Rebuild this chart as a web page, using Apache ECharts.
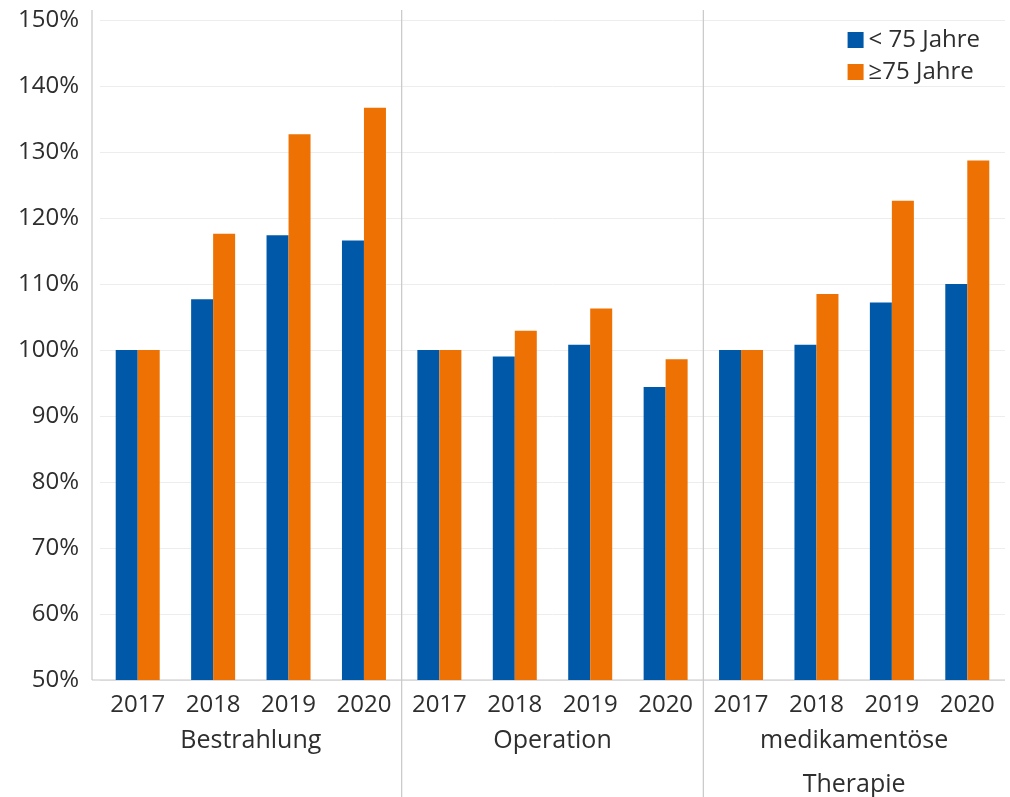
<!DOCTYPE html>
<html>
<head>
<meta charset="utf-8">
<script src="https://cdn.jsdelivr.net/npm/echarts@6/dist/echarts.min.js"></script>
<style>
  html, body { margin: 0; padding: 0; background: #fff; }
  #chart { width: 1010px; height: 797px; }
</style>
</head>
<body>
<div id="chart"></div>
<script>
const groups = ['Bestrahlung', 'Operation', 'medikamentöse\nTherapie'];
const years = ['2017', '2018', '2019', '2020'];
const yTicks = [50, 60, 70, 80, 90, 100, 110, 120, 130, 140, 150];
// Index, 2017 = 100 %
const under75 = [100, 107.7, 117.4, 116.6, 100, 99.0, 100.8, 94.4, 100, 100.8, 107.2, 110.0];
const over75 = [100, 117.6, 132.7, 136.7, 100, 102.9, 106.3, 98.6, 100, 108.5, 122.6, 128.7];

// eine Kategorie je Gruppe+Jahr, Beschriftung zeigt nur das Jahr
const categories = [];
groups.forEach((g, gi) => {
    years.forEach(y => categories.push(y + '|' + gi));
});

const textColor = '#2e2e2e';
const lineColor = '#c8c8c8';
const font = 'Open Sans';

// schmale Ziffern wie im Original, falls die Schrift da ist
const hasFont = name => {
    const ctx = document.createElement('canvas').getContext('2d');
    ctx.font = '40px monospace';
    const a = ctx.measureText('2017 150%').width;
    ctx.font = "40px '" + name + "', monospace";
    return ctx.measureText('2017 150%').width !== a;
};
const narrow = hasFont('Liberation Sans Narrow');
const numFont = narrow ? 'Liberation Sans Narrow' : font;
const numSize = narrow ? 26 : 24;

const chart = echarts.init(document.getElementById('chart'));
const option = {
    animation: false,
    textStyle: { fontFamily: font },
    grid: { left: 100, right: 5, top: 20, bottom: 117, outerBoundsMode: 'none' },
    legend: {
        orient: 'vertical',
        right: 25,
        top: 23,
        itemWidth: 16,
        itemHeight: 16,
        itemGap: 8,
        icon: 'rect',
        textStyle: { fontSize: 24, color: textColor, fontFamily: font }
    },
    xAxis: [{
        type: 'category',
        data: categories,
        axisLine: { show: false },
        axisTick: { show: false },
        axisLabel: {
            fontSize: numSize,
            fontFamily: numFont,
            color: textColor,
            margin: 13,
            formatter: v => v.split('|')[0]
        }
    }, {
        type: 'category',
        position: 'bottom',
        data: groups,
        axisLine: { show: false },
        axisTick: { show: false },
        splitLine: { show: false },
        axisLabel: {
            fontSize: 25,
            color: textColor,
            margin: 39,
            lineHeight: 44
        }
    }],
    yAxis: {
        type: 'value',
        min: yTicks[0],
        max: yTicks[yTicks.length - 1],
        interval: 10,
        axisLine: { show: false },
        axisTick: { show: false },
        axisLabel: {
            fontSize: numSize,
            fontFamily: numFont,
            color: textColor,
            margin: 21,
            formatter: '{value}%'
        },
        splitLine: { lineStyle: { color: '#ededed', width: 1 } }
    },
    series: [{
        name: '< 75 Jahre',
        type: 'bar',
        data: under75,
        barWidth: 22,
        barGap: '0%',
        itemStyle: { color: '#0058a9' }
    }, {
        name: '≥75 Jahre',
        type: 'bar',
        data: over75,
        barWidth: 22,
        itemStyle: { color: '#ee7203' }
    }]
};
chart.setOption(option);

// Achsenlinien und Gruppentrenner aus den Achsen-Pixeln ableiten
const yBottom = chart.convertToPixel({ yAxisIndex: 0 }, yTicks[0]);
const yTop = chart.convertToPixel({ yAxisIndex: 0 }, yTicks[yTicks.length - 1]);
const xFirst = chart.convertToPixel({ xAxisIndex: 0 }, 0);
const xLast = chart.convertToPixel({ xAxisIndex: 0 }, categories.length - 1);
const step = (xLast - xFirst) / (categories.length - 1);
const axisX = xFirst - step / 2 - 8;
const rightX = xLast + step / 2;

const lines = [
    { x1: axisX, y1: yTop - 10, x2: axisX, y2: yBottom },
    { x1: axisX, y1: yBottom, x2: rightX, y2: yBottom }
];
for (let gi = 1; gi < groups.length; gi++) {
    const a = chart.convertToPixel({ xAxisIndex: 0 }, gi * years.length - 1);
    const b = chart.convertToPixel({ xAxisIndex: 0 }, gi * years.length);
    const x = (a + b) / 2;
    lines.push({ x1: x, y1: yTop - 10, x2: x, y2: 797 });
}
chart.setOption({
    graphic: lines.map(s => ({
        type: 'line',
        shape: s,
        silent: true,
        style: { stroke: lineColor, lineWidth: 1.2 }
    }))
});
</script>
</body>
</html>
